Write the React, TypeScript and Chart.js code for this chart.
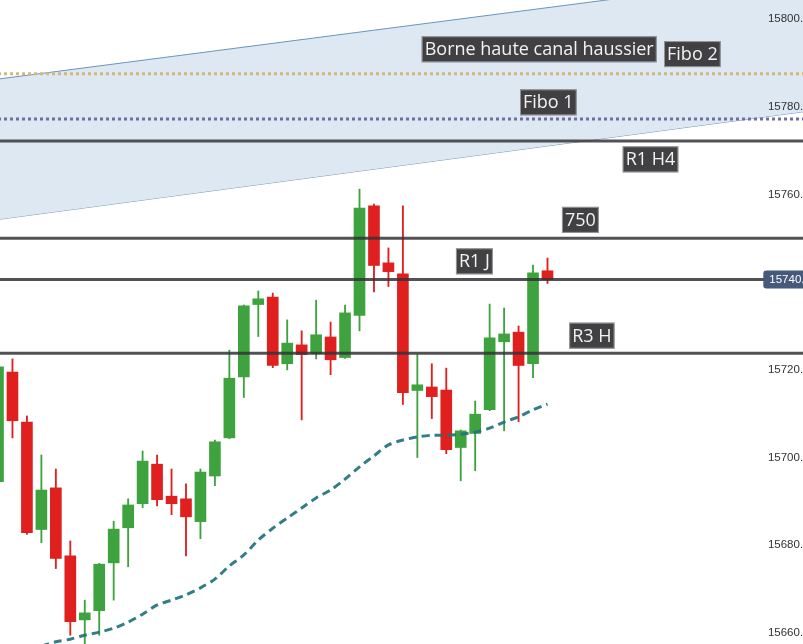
import React, { useEffect, useRef } from "react";
import { Chart, registerables } from "chart.js";

Chart.register(...registerables);

// ---- Candles (open / high / low / close), one per period ----
const opens = [
  15694.5, 15719.5, 15708.1, 15683.6, 15693.1, 15677.6, 15663.0, 15665.1, 15676.0, 15684.0,
  15689.5, 15698.5, 15691.2, 15690.6, 15685.4, 15695.8, 15704.5, 15718.4, 15734.9, 15736.6,
  15721.4, 15725.7, 15723.7, 15727.5, 15722.8, 15732.4, 15757.4, 15744.4, 15741.9, 15715.3,
  15716.1, 15715.4, 15702.3, 15705.5, 15710.9, 15726.4, 15728.6, 15721.4, 15742.6,
];
const highs = [
  15721.5, 15722.5, 15709.5, 15700.6, 15697.4, 15681.0, 15667.5, 15675.9, 15685.5, 15690.6,
  15701.5, 15700.6, 15697.4, 15694.0, 15697.4, 15704.0, 15724.5, 15734.8, 15738.0, 15737.5,
  15731.4, 15728.9, 15735.9, 15730.9, 15734.8, 15761.2, 15757.8, 15747.8, 15757.4, 15723.5,
  15721.4, 15720.4, 15706.3, 15712.9, 15735.0, 15734.1, 15730.0, 15743.9, 15745.5,
];
const lows = [
  15693.0, 15704.5, 15682.5, 15680.6, 15674.7, 15659.5, 15656.0, 15659.5, 15667.5, 15675.1,
  15688.6, 15689.0, 15687.0, 15677.6, 15681.5, 15693.6, 15704.3, 15713.7, 15727.6, 15720.5,
  15720.0, 15708.6, 15722.5, 15718.9, 15722.6, 15728.9, 15737.8, 15739.0, 15712.1, 15700.0,
  15708.9, 15700.9, 15694.7, 15697.0, 15710.7, 15706.1, 15708.2, 15718.2, 15739.7,
];
const closes = [
  15720.7, 15708.4, 15682.9, 15692.6, 15677.0, 15662.6, 15664.6, 15675.7, 15683.7, 15689.2,
  15699.2, 15690.4, 15689.5, 15686.5, 15696.7, 15703.6, 15718.1, 15734.6, 15736.2, 15721.0,
  15726.1, 15723.5, 15728.0, 15722.3, 15733.0, 15756.9, 15743.8, 15742.4, 15714.8, 15716.6,
  15713.9, 15701.8, 15706.1, 15709.9, 15727.3, 15728.2, 15721.0, 15742.1, 15740.6,
];

// ---- Moving average (dashed), null where not shown ----
const movingAverage = [
  null, null, null, 15657.0, 15658.0, 15658.6, 15659.5, 15660.2, 15661.1, 15662.5,
  15664.3, 15666.4, 15667.5, 15668.7, 15670.3, 15672.3, 15675.3, 15677.8, 15681.2, 15683.9,
  15686.2, 15688.5, 15690.8, 15692.6, 15695.1, 15697.9, 15700.4, 15702.9, 15704.0, 15704.7,
  15705.1, 15705.1, 15705.3, 15705.8, 15706.7, 15708.1, 15709.3, 15710.9, 15712.2,
];

// ---- Horizontal levels ----
const levelNames = ["Fibo 2", "Fibo 1", "R1 H4", "750", "R1 J", "R3 H"];
const levelPrices = [15787.5, 15777.2, 15772.2, 15750.0, 15740.6, 15723.8];

// ---- Rising channel (two boundary lines, index -> price) ----
const channelX = [0, 56];
const channelUpper = [15786.3, 15810.3];
const channelLower = [15754.3, 15779.0];

// ---- Axis ticks ----
const yTicks = [15660, 15680, 15700, 15720, 15740, 15760, 15780, 15800];

// ---- Annotation labels (anchor: index of left edge, price of centre) ----
const labelTexts = ["Borne haute canal haussier", "Fibo 2", "Fibo 1", "R1 H4", "750", "R1 J", "R3 H"];
const labelAnchorX = [29.3, 46.06, 36.1, 43.2, 39.0, 31.67, 39.5];
const labelAnchorY = [15793.1, 15792.0, 15781.0, 15768.0, 15754.2, 15744.75, 15727.8];

// ---- View window ----
const X_MIN = 0.138;
const X_MAX = 55.67;
const Y_MIN = 15657.5;
const Y_MAX = 15804.33;

const GREEN = "#3ea33e";
const RED = "#e01f1f";
const AXIS_FONT = '"Liberation Sans", Arial, sans-serif';

const levelStyle = (name: string) => {
  if (name === "Fibo 2") return { color: "#d4b877", width: 3, dash: [3, 3] };
  if (name === "Fibo 1") return { color: "#6f6fa3", width: 3, dash: [3, 3] };
  return { color: "rgba(52,52,56,0.85)", width: 3, dash: [] as number[] };
};

const annotationPlugin = {
  id: "annotationLabels",
  afterDraw(chart: any) {
    const { ctx, scales, chartArea } = chart;
    const x = scales.x;
    const y = scales.y;
    ctx.save();
    ctx.font = '18px "Open Sans"';
    ctx.textBaseline = "middle";
    ctx.textAlign = "left";
    labelTexts.forEach((t, i) => {
      const left = x.getPixelForValue(labelAnchorX[i]);
      const cy = y.getPixelForValue(labelAnchorY[i]);
      const w = ctx.measureText(t).width + 6;
      const h = 26;
      ctx.fillStyle = "rgba(55,55,57,0.95)";
      ctx.fillRect(left, cy - h / 2, w, h);
      ctx.strokeStyle = "rgba(185,185,185,0.7)";
      ctx.lineWidth = 1;
      ctx.strokeRect(left + 0.5, cy - h / 2 + 0.5, w - 1, h - 1);
      ctx.fillStyle = "#f2f2f2";
      ctx.fillText(t, left + 3, cy + 1);
    });

    // current price badge
    const last = closes[closes.length - 1];
    const by = y.getPixelForValue(last);
    const bx = chartArea.right - 39.7;
    ctx.fillStyle = "#46597a";
    ctx.beginPath();
    (ctx as any).roundRect(bx, by - 9, 50, 18, 3);
    ctx.fill();
    ctx.fillStyle = "#ffffff";
    ctx.font = "11.5px " + AXIS_FONT;
    ctx.fillText(last.toFixed(1), bx + 6, by + 0.5);
    ctx.restore();
  },
};

export default function App() {
  const ref = useRef<HTMLCanvasElement>(null);

  useEffect(() => {
    document.body.style.margin = "0";
    document.body.style.overflow = "hidden";
    const canvas = ref.current;
    if (!canvas) return;

    const idx = opens.map((_, i) => i);
    const candleColor = (ctx: any) =>
      closes[ctx.dataIndex] >= opens[ctx.dataIndex] ? GREEN : RED;

    const levelDatasets = levelNames.map((name, k) => {
      const st = levelStyle(name);
      return {
        type: "line" as const,
        label: name,
        data: channelX.map((cx) => ({ x: cx, y: levelPrices[k] })),
        borderColor: st.color,
        borderWidth: st.width,
        borderDash: st.dash,
        pointRadius: 0,
        fill: false,
        tension: 0,
        order: 2,
      };
    });

    const chart = new Chart(canvas, {
      type: "bar",
      data: {
        datasets: [
          {
            type: "line",
            label: "Canal bas",
            data: channelX.map((cx, i) => ({ x: cx, y: channelLower[i] })),
            borderColor: "#6b95bd",
            borderWidth: 1,
            pointRadius: 0,
            fill: false,
            tension: 0,
            order: 10,
          },
          {
            type: "line",
            label: "Canal haut",
            data: channelX.map((cx, i) => ({ x: cx, y: channelUpper[i] })),
            borderColor: "#6b95bd",
            borderWidth: 1,
            backgroundColor: "#dde8f2",
            pointRadius: 0,
            fill: "-1",
            tension: 0,
            order: 9,
          },
          {
            type: "bar",
            label: "Mèches",
            data: idx.map((i) => ({ x: i, y: [lows[i], highs[i]] })),
            backgroundColor: candleColor,
            barThickness: 1.2,
            grouped: false,
            order: 6,
          } as any,
          {
            type: "bar",
            label: "Corps",
            data: idx.map((i) => ({ x: i, y: [opens[i], closes[i]] })),
            backgroundColor: candleColor,
            barThickness: 11,
            grouped: false,
            order: 5,
          } as any,
          {
            type: "line",
            label: "Moyenne mobile",
            data: idx.map((i) => ({ x: i, y: movingAverage[i] })),
            borderColor: "rgba(34,114,124,0.92)",
            borderWidth: 3,
            borderDash: [8, 5],
            pointRadius: 0,
            fill: false,
            tension: 0.3,
            order: 4,
          },
          ...levelDatasets,
        ] as any,
      },
      options: {
        animation: false,
        responsive: false,
        maintainAspectRatio: false,
        layout: { padding: 0 },
        plugins: {
          legend: { display: false },
          tooltip: { enabled: false },
        },
        scales: {
          x: {
            type: "linear",
            min: X_MIN,
            max: X_MAX,
            offset: false,
            display: false,
          },
          y: {
            type: "linear",
            position: "right",
            min: Y_MIN,
            max: Y_MAX,
            grid: { display: false, drawTicks: false },
            border: { display: false },
            afterBuildTicks: (s: any) => {
              s.ticks = yTicks.map((v) => ({ value: v }));
            },
            afterFit: (s: any) => {
              s.width = 0;
              s.paddingTop = 0;
              s.paddingBottom = 0;
            },
            ticks: {
              z: 1,
              mirror: true,
              crossAlign: "far",
              padding: 6.5,
              autoSkip: false,
              color: "#333333",
              font: { family: AXIS_FONT, size: 11.5 },
              callback: (v: any) => Number(v).toFixed(1),
            },
          },
        },
      } as any,
      plugins: [annotationPlugin],
    });

    return () => chart.destroy();
  }, []);

  return (
    <div style={{ width: 803, height: 644, overflow: "hidden", background: "#ffffff" }}>
      <canvas ref={ref} width={803} height={644} style={{ display: "block" }} />
    </div>
  );
}
